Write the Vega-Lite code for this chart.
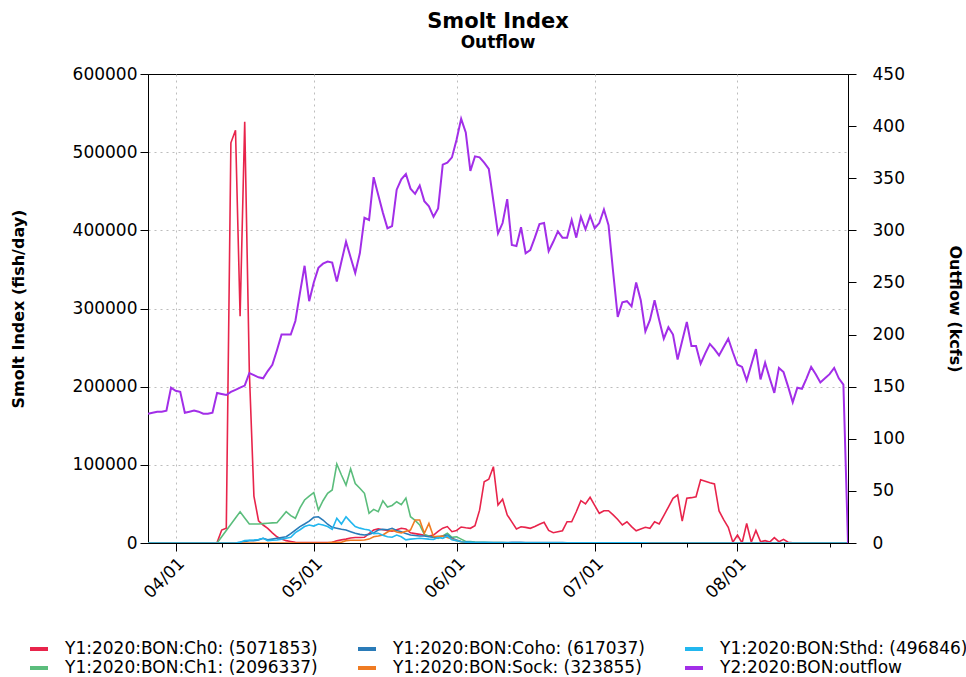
{
  "$schema": "https://vega.github.io/schema/vega-lite/v6.json",
  "width": 700,
  "height": 469,
  "autosize": {"type": "none"},
  "padding": {"left": 148, "top": 74, "right": 118, "bottom": 134},
  "background": "white",
  "title": {
    "text": "Smolt Index",
    "subtitle": "Outflow",
    "fontSize": 21,
    "fontWeight": "bold",
    "subtitleFontSize": 17,
    "subtitleFontWeight": "bold",
    "subtitleColor": "black",
    "color": "black",
    "font": "DejaVu Sans",
    "subtitleFont": "DejaVu Sans",
    "anchor": "middle",
    "frame": "group",
    "offset": 14,
    "subtitlePadding": 3
  },
  "config": {
    "font": "DejaVu Sans",
    "view": {"stroke": "black", "strokeWidth": 1},
    "axis": {
      "labelFont": "DejaVu Sans",
      "labelFontSize": 17,
      "labelColor": "black",
      "titleFont": "DejaVu Sans",
      "titleFontSize": 16,
      "titleFontWeight": "bold",
      "titleColor": "black",
      "domainColor": "black",
      "tickColor": "black",
      "gridColor": "#bdbdbd",
      "gridDash": [2, 4],
      "gridWidth": 1
    }
  },
  "data": {
    "values": [
      {"d":"2020-03-26","a":0,"b":0,"c":0,"k":0,"t":0,"o":124},
      {"d":"2020-03-27","a":0,"b":0,"c":0,"k":0,"t":0,"o":125},
      {"d":"2020-03-28","a":0,"b":0,"c":0,"k":0,"t":0,"o":126},
      {"d":"2020-03-29","a":0,"b":0,"c":0,"k":0,"t":0,"o":126},
      {"d":"2020-03-30","a":0,"b":0,"c":0,"k":0,"t":0,"o":127},
      {"d":"2020-03-31","a":0,"b":0,"c":0,"k":0,"t":0,"o":149},
      {"d":"2020-04-01","a":0,"b":0,"c":0,"k":0,"t":0,"o":146},
      {"d":"2020-04-02","a":0,"b":0,"c":0,"k":0,"t":0,"o":145},
      {"d":"2020-04-03","a":0,"b":0,"c":0,"k":0,"t":0,"o":125},
      {"d":"2020-04-04","a":0,"b":0,"c":0,"k":0,"t":0,"o":126},
      {"d":"2020-04-05","a":0,"b":0,"c":0,"k":0,"t":0,"o":127},
      {"d":"2020-04-06","a":0,"b":0,"c":0,"k":0,"t":0,"o":126},
      {"d":"2020-04-07","a":0,"b":0,"c":0,"k":0,"t":0,"o":124},
      {"d":"2020-04-08","a":0,"b":0,"c":0,"k":0,"t":0,"o":124},
      {"d":"2020-04-09","a":0,"b":0,"c":0,"k":0,"t":0,"o":125},
      {"d":"2020-04-10","a":500,"b":0,"c":0,"k":0,"t":0,"o":144},
      {"d":"2020-04-11","a":16600,"b":8000,"c":0,"k":0,"t":0,"o":143},
      {"d":"2020-04-12","a":19000,"b":16000,"c":0,"k":0,"t":0,"o":142},
      {"d":"2020-04-13","a":512000,"b":24000,"c":0,"k":0,"t":0,"o":145},
      {"d":"2020-04-14","a":528000,"b":32000,"c":0,"k":0,"t":0,"o":147},
      {"d":"2020-04-15","a":290000,"b":40000,"c":1000,"k":0,"t":1000,"o":149},
      {"d":"2020-04-16","a":539000,"b":32000,"c":2000,"k":0,"t":3000,"o":151},
      {"d":"2020-04-17","a":220000,"b":24300,"c":3000,"k":0,"t":3500,"o":163},
      {"d":"2020-04-18","a":60000,"b":24300,"c":3000,"k":0,"t":3800,"o":161},
      {"d":"2020-04-19","a":28500,"b":24300,"c":4000,"k":0,"t":4500,"o":159},
      {"d":"2020-04-20","a":23000,"b":24800,"c":6000,"k":0,"t":6000,"o":158},
      {"d":"2020-04-21","a":18800,"b":25300,"c":4000,"k":0,"t":3000,"o":165},
      {"d":"2020-04-22","a":13000,"b":25700,"c":5000,"k":0,"t":3500,"o":171},
      {"d":"2020-04-23","a":8000,"b":26000,"c":6000,"k":0,"t":3800,"o":185},
      {"d":"2020-04-24","a":5000,"b":33000,"c":7000,"k":0,"t":5000,"o":200},
      {"d":"2020-04-25","a":3000,"b":40000,"c":8000,"k":0,"t":6000,"o":200},
      {"d":"2020-04-26","a":2000,"b":35000,"c":12000,"k":0,"t":7300,"o":200},
      {"d":"2020-04-27","a":1000,"b":31600,"c":16600,"k":0,"t":13200,"o":213},
      {"d":"2020-04-28","a":500,"b":45000,"c":21000,"k":0,"t":17000,"o":240},
      {"d":"2020-04-29","a":500,"b":55000,"c":24300,"k":0,"t":21000,"o":266},
      {"d":"2020-04-30","a":500,"b":60000,"c":28000,"k":0,"t":23000,"o":232},
      {"d":"2020-05-01","a":500,"b":64400,"c":32900,"k":0,"t":21700,"o":250},
      {"d":"2020-05-02","a":500,"b":42200,"c":33600,"k":0,"t":24300,"o":264},
      {"d":"2020-05-03","a":500,"b":54100,"c":29400,"k":0,"t":23000,"o":268},
      {"d":"2020-05-04","a":500,"b":63600,"c":24000,"k":300,"t":21000,"o":270},
      {"d":"2020-05-05","a":1000,"b":67800,"c":20000,"k":1000,"t":17500,"o":269},
      {"d":"2020-05-06","a":3000,"b":101000,"c":18800,"k":1000,"t":31600,"o":251},
      {"d":"2020-05-07","a":4000,"b":87000,"c":17500,"k":1000,"t":24300,"o":270},
      {"d":"2020-05-08","a":5000,"b":74000,"c":16600,"k":3000,"t":33600,"o":289},
      {"d":"2020-05-09","a":6500,"b":95000,"c":14500,"k":3500,"t":27000,"o":274},
      {"d":"2020-05-10","a":7000,"b":76000,"c":12400,"k":3500,"t":21000,"o":259},
      {"d":"2020-05-11","a":7000,"b":70000,"c":11000,"k":3500,"t":19000,"o":278},
      {"d":"2020-05-12","a":7300,"b":63600,"c":10200,"k":3800,"t":17500,"o":312},
      {"d":"2020-05-13","a":12000,"b":38000,"c":11000,"k":5000,"t":16600,"o":310},
      {"d":"2020-05-14","a":16600,"b":43000,"c":13000,"k":8000,"t":12000,"o":351},
      {"d":"2020-05-15","a":18000,"b":40000,"c":16600,"k":9000,"t":12400,"o":334},
      {"d":"2020-05-16","a":17000,"b":54000,"c":17500,"k":10200,"t":10000,"o":317},
      {"d":"2020-05-17","a":16000,"b":46000,"c":17000,"k":14000,"t":8000,"o":302},
      {"d":"2020-05-18","a":15000,"b":48000,"c":18800,"k":16600,"t":7300,"o":304},
      {"d":"2020-05-19","a":17000,"b":52800,"c":16000,"k":14000,"t":10200,"o":339},
      {"d":"2020-05-20","a":18800,"b":49000,"c":14500,"k":13000,"t":8000,"o":349},
      {"d":"2020-05-21","a":18000,"b":57500,"c":12000,"k":15000,"t":4000,"o":354},
      {"d":"2020-05-22","a":13000,"b":33600,"c":10200,"k":16600,"t":5000,"o":340},
      {"d":"2020-05-23","a":12000,"b":29000,"c":9500,"k":29400,"t":5500,"o":335},
      {"d":"2020-05-24","a":11000,"b":23000,"c":9000,"k":29400,"t":6000,"o":343},
      {"d":"2020-05-25","a":10000,"b":11000,"c":9000,"k":12400,"t":5500,"o":328},
      {"d":"2020-05-26","a":9000,"b":9000,"c":8000,"k":25000,"t":5000,"o":323},
      {"d":"2020-05-27","a":10200,"b":7300,"c":7500,"k":8000,"t":4700,"o":313},
      {"d":"2020-05-28","a":15000,"b":6000,"c":7300,"k":8500,"t":7000,"o":321},
      {"d":"2020-05-29","a":19000,"b":9000,"c":9000,"k":9000,"t":6000,"o":363},
      {"d":"2020-05-30","a":21000,"b":12400,"c":10200,"k":7000,"t":9000,"o":365},
      {"d":"2020-05-31","a":14500,"b":7300,"c":6000,"k":5000,"t":4000,"o":370},
      {"d":"2020-06-01","a":16000,"b":8000,"c":3800,"k":3000,"t":3000,"o":387},
      {"d":"2020-06-02","a":20500,"b":5000,"c":2000,"k":1700,"t":1700,"o":407},
      {"d":"2020-06-03","a":19500,"b":2000,"c":1500,"k":500,"t":1000,"o":394},
      {"d":"2020-06-04","a":18800,"b":1700,"c":900,"k":200,"t":800,"o":357},
      {"d":"2020-06-05","a":22000,"b":1200,"c":700,"k":0,"t":600,"o":371},
      {"d":"2020-06-06","a":42000,"b":1000,"c":600,"k":0,"t":500,"o":370},
      {"d":"2020-06-07","a":78400,"b":800,"c":500,"k":0,"t":500,"o":365},
      {"d":"2020-06-08","a":81500,"b":600,"c":500,"k":0,"t":500,"o":359},
      {"d":"2020-06-09","a":97600,"b":500,"c":500,"k":0,"t":400,"o":328},
      {"d":"2020-06-10","a":48600,"b":500,"c":500,"k":0,"t":400,"o":297},
      {"d":"2020-06-11","a":55900,"b":500,"c":500,"k":0,"t":400,"o":307},
      {"d":"2020-06-12","a":36000,"b":400,"c":600,"k":0,"t":400,"o":330},
      {"d":"2020-06-13","a":27000,"b":400,"c":800,"k":0,"t":300,"o":286},
      {"d":"2020-06-14","a":18000,"b":400,"c":1000,"k":0,"t":300,"o":285},
      {"d":"2020-06-15","a":20800,"b":400,"c":800,"k":0,"t":300,"o":303},
      {"d":"2020-06-16","a":20000,"b":400,"c":600,"k":0,"t":300,"o":278},
      {"d":"2020-06-17","a":18800,"b":300,"c":500,"k":0,"t":300,"o":281},
      {"d":"2020-06-18","a":21000,"b":300,"c":500,"k":0,"t":300,"o":293},
      {"d":"2020-06-19","a":24000,"b":300,"c":500,"k":0,"t":300,"o":306},
      {"d":"2020-06-20","a":26500,"b":300,"c":500,"k":0,"t":300,"o":307},
      {"d":"2020-06-21","a":16000,"b":300,"c":500,"k":0,"t":200,"o":280},
      {"d":"2020-06-22","a":13200,"b":300,"c":500,"k":0,"t":200,"o":289},
      {"d":"2020-06-23","a":14500,"b":300,"c":500,"k":0,"t":200,"o":299},
      {"d":"2020-06-24","a":15700,"b":300,"c":500,"k":0,"t":200,"o":293},
      {"d":"2020-06-25","a":27200,"b":200,"c":400,"k":0,"t":200,"o":293},
      {"d":"2020-06-26","a":27200,"b":200,"c":400,"k":0,"t":200,"o":310},
      {"d":"2020-06-27","a":40000,"b":200,"c":400,"k":0,"t":200,"o":293},
      {"d":"2020-06-28","a":54100,"b":200,"c":400,"k":0,"t":200,"o":313},
      {"d":"2020-06-29","a":49900,"b":200,"c":400,"k":0,"t":200,"o":301},
      {"d":"2020-06-30","a":58500,"b":200,"c":400,"k":0,"t":200,"o":314},
      {"d":"2020-07-01","a":48000,"b":100,"c":300,"k":0,"t":100,"o":302},
      {"d":"2020-07-02","a":38000,"b":100,"c":300,"k":0,"t":100,"o":307},
      {"d":"2020-07-03","a":41300,"b":100,"c":300,"k":0,"t":100,"o":320},
      {"d":"2020-07-04","a":41300,"b":100,"c":300,"k":0,"t":100,"o":305},
      {"d":"2020-07-05","a":36000,"b":100,"c":200,"k":0,"t":100,"o":260},
      {"d":"2020-07-06","a":30000,"b":100,"c":200,"k":0,"t":100,"o":217},
      {"d":"2020-07-07","a":23000,"b":100,"c":200,"k":0,"t":100,"o":231},
      {"d":"2020-07-08","a":27200,"b":100,"c":200,"k":0,"t":100,"o":232},
      {"d":"2020-07-09","a":21000,"b":0,"c":200,"k":0,"t":100,"o":227},
      {"d":"2020-07-10","a":15700,"b":0,"c":200,"k":0,"t":100,"o":250},
      {"d":"2020-07-11","a":18000,"b":0,"c":200,"k":0,"t":100,"o":233},
      {"d":"2020-07-12","a":20100,"b":0,"c":200,"k":0,"t":100,"o":203},
      {"d":"2020-07-13","a":18800,"b":0,"c":100,"k":0,"t":0,"o":214},
      {"d":"2020-07-14","a":27200,"b":0,"c":100,"k":0,"t":0,"o":233},
      {"d":"2020-07-15","a":24300,"b":0,"c":100,"k":0,"t":0,"o":214},
      {"d":"2020-07-16","a":35000,"b":0,"c":100,"k":0,"t":0,"o":196},
      {"d":"2020-07-17","a":46000,"b":0,"c":100,"k":0,"t":0,"o":207},
      {"d":"2020-07-18","a":57200,"b":0,"c":100,"k":0,"t":0,"o":200},
      {"d":"2020-07-19","a":61400,"b":0,"c":100,"k":0,"t":0,"o":176},
      {"d":"2020-07-20","a":28100,"b":0,"c":100,"k":0,"t":0,"o":194},
      {"d":"2020-07-21","a":57200,"b":0,"c":100,"k":0,"t":0,"o":212},
      {"d":"2020-07-22","a":58000,"b":0,"c":0,"k":0,"t":0,"o":189},
      {"d":"2020-07-23","a":59200,"b":0,"c":0,"k":0,"t":0,"o":189},
      {"d":"2020-07-24","a":81000,"b":0,"c":0,"k":0,"t":0,"o":172},
      {"d":"2020-07-25","a":79000,"b":0,"c":0,"k":0,"t":0,"o":182},
      {"d":"2020-07-26","a":77000,"b":0,"c":0,"k":0,"t":0,"o":191},
      {"d":"2020-07-27","a":75500,"b":0,"c":0,"k":0,"t":0,"o":186},
      {"d":"2020-07-28","a":41000,"b":0,"c":0,"k":0,"t":0,"o":180},
      {"d":"2020-07-29","a":30000,"b":0,"c":0,"k":0,"t":0,"o":188},
      {"d":"2020-07-30","a":20000,"b":0,"c":0,"k":0,"t":0,"o":196},
      {"d":"2020-07-31","a":1000,"b":0,"c":0,"k":0,"t":0,"o":183},
      {"d":"2020-08-01","a":10200,"b":0,"c":0,"k":0,"t":0,"o":171},
      {"d":"2020-08-02","a":0,"b":0,"c":0,"k":0,"t":0,"o":169},
      {"d":"2020-08-03","a":25000,"b":0,"c":0,"k":0,"t":0,"o":156},
      {"d":"2020-08-04","a":1000,"b":0,"c":0,"k":0,"t":0,"o":171},
      {"d":"2020-08-05","a":16000,"b":0,"c":0,"k":0,"t":0,"o":186},
      {"d":"2020-08-06","a":1700,"b":0,"c":0,"k":0,"t":0,"o":157},
      {"d":"2020-08-07","a":3000,"b":0,"c":0,"k":0,"t":0,"o":173},
      {"d":"2020-08-08","a":1300,"b":0,"c":0,"k":0,"t":0,"o":158},
      {"d":"2020-08-09","a":6800,"b":0,"c":0,"k":0,"t":0,"o":144},
      {"d":"2020-08-10","a":1700,"b":0,"c":0,"k":0,"t":0,"o":168},
      {"d":"2020-08-11","a":4700,"b":0,"c":0,"k":0,"t":0,"o":164},
      {"d":"2020-08-12","a":900,"b":0,"c":0,"k":0,"t":0,"o":150},
      {"d":"2020-08-13","a":300,"b":0,"c":0,"k":0,"t":0,"o":135},
      {"d":"2020-08-14","a":300,"b":0,"c":0,"k":0,"t":0,"o":149},
      {"d":"2020-08-15","a":300,"b":0,"c":0,"k":0,"t":0,"o":148},
      {"d":"2020-08-16","a":300,"b":0,"c":0,"k":0,"t":0,"o":158},
      {"d":"2020-08-17","a":300,"b":0,"c":0,"k":0,"t":0,"o":169},
      {"d":"2020-08-18","a":300,"b":0,"c":0,"k":0,"t":0,"o":162},
      {"d":"2020-08-19","a":300,"b":0,"c":0,"k":0,"t":0,"o":154},
      {"d":"2020-08-20","a":300,"b":0,"c":0,"k":0,"t":0,"o":158},
      {"d":"2020-08-21","a":300,"b":0,"c":0,"k":0,"t":0,"o":162},
      {"d":"2020-08-22","a":300,"b":0,"c":0,"k":0,"t":0,"o":168},
      {"d":"2020-08-23","a":300,"b":0,"c":0,"k":0,"t":0,"o":158},
      {"d":"2020-08-24","a":300,"b":0,"c":0,"k":0,"t":0,"o":152},
      {"d":"2020-08-25","a":300,"b":0,"c":0,"k":0,"t":0,"o":0}
    ]
  },
  "encoding": {
    "x": {
      "field": "d",
      "type": "temporal",
      "title": null,
      "scale": {
        "type": "utc",
        "domain": [
          {"year": 2020, "month": 3, "date": 26, "utc": true},
          {"year": 2020, "month": 8, "date": 25, "utc": true}
        ]
      },
      "axis": {
        "values": [
          {"year": 2020, "month": 4, "date": 1, "utc": true},
          {"year": 2020, "month": 4, "date": 11, "utc": true},
          {"year": 2020, "month": 4, "date": 21, "utc": true},
          {"year": 2020, "month": 5, "date": 1, "utc": true},
          {"year": 2020, "month": 5, "date": 11, "utc": true},
          {"year": 2020, "month": 5, "date": 21, "utc": true},
          {"year": 2020, "month": 6, "date": 1, "utc": true},
          {"year": 2020, "month": 6, "date": 11, "utc": true},
          {"year": 2020, "month": 6, "date": 21, "utc": true},
          {"year": 2020, "month": 7, "date": 1, "utc": true},
          {"year": 2020, "month": 7, "date": 11, "utc": true},
          {"year": 2020, "month": 7, "date": 21, "utc": true},
          {"year": 2020, "month": 8, "date": 1, "utc": true},
          {"year": 2020, "month": 8, "date": 11, "utc": true},
          {"year": 2020, "month": 8, "date": 21, "utc": true}
        ],
        "labelExpr": "utcdate(datum.value) == 1 ? utcFormat(datum.value, '%m/%d') : ''",
        "labelAngle": -45,
        "labelAlign": "right",
        "labelBaseline": "top",
        "labelPadding": 4,
        "labelFlush": false,
        "labelOverlap": false,
        "grid": true,
        "gridOpacity": {"condition": {"test": "utcdate(datum.value) == 1", "value": 1}, "value": 0},
        "tickSize": {"condition": {"test": "utcdate(datum.value) == 1", "value": 8}, "value": 4}
      }
    }
  },
  "layer": [
    {
      "transform": [{"fold": ["a", "b", "c", "k", "t"], "as": ["s", "v"]}],
      "mark": {"type": "line", "strokeWidth": 1.6, "clip": true},
      "encoding": {
        "y": {
          "field": "v",
          "type": "quantitative",
          "title": "Smolt Index (fish/day)",
          "scale": {"domain": [0, 600000], "nice": false},
          "axis": {
            "values": [0, 100000, 200000, 300000, 400000, 500000, 600000],
            "format": "d",
            "grid": true,
            "gridOpacity": {"condition": {"test": "datum.value >= 600000 || datum.value <= 0", "value": 0}, "value": 1},
            "tickSize": 8,
            "labelPadding": 3,
            "titlePadding": 46
          }
        },
        "color": {
          "field": "s",
          "type": "nominal",
          "scale": {
            "domain": ["a", "c", "t", "b", "k", "o"],
            "range": ["#e8244b", "#2a7bb8", "#22b7ef", "#5bbd7c", "#ef7b22", "#a22ee8"]
          },
          "legend": {
            "orient": "none",
            "legendX": -120,
            "legendY": 564,
            "direction": "horizontal",
            "columns": 3,
            "columnPadding": 32,
            "rowPadding": 0,
            "title": null,
            "symbolType": "stroke",
            "symbolSize": 324,
            "symbolStrokeWidth": 4,
            "labelFont": "DejaVu Sans",
            "labelFontSize": 17,
            "labelColor": "black",
            "labelOffset": 15,
            "labelLimit": 400,
            "labelExpr": "datum.label == 'a' ? 'Y1:2020:BON:Ch0: (5071853)' : datum.label == 'b' ? 'Y1:2020:BON:Ch1: (2096337)' : datum.label == 'c' ? 'Y1:2020:BON:Coho: (617037)' : datum.label == 'k' ? 'Y1:2020:BON:Sock: (323855)' : datum.label == 't' ? 'Y1:2020:BON:Sthd: (496846)' : 'Y2:2020:BON:outflow'"
          }
        }
      }
    },
    {
      "mark": {"type": "line", "strokeWidth": 2, "clip": true},
      "encoding": {
        "y": {
          "field": "o",
          "type": "quantitative",
          "title": "Outflow (kcfs)",
          "scale": {"domain": [0, 450], "nice": false},
          "axis": {
            "orient": "right",
            "values": [0, 50, 100, 150, 200, 250, 300, 350, 400, 450],
            "grid": false,
            "tickSize": 8,
            "labelPadding": 16,
            "titlePadding": 42
          }
        },
        "color": {"datum": "o", "type": "nominal"}
      }
    }
  ],
  "resolve": {"scale": {"y": "independent"}}
}
